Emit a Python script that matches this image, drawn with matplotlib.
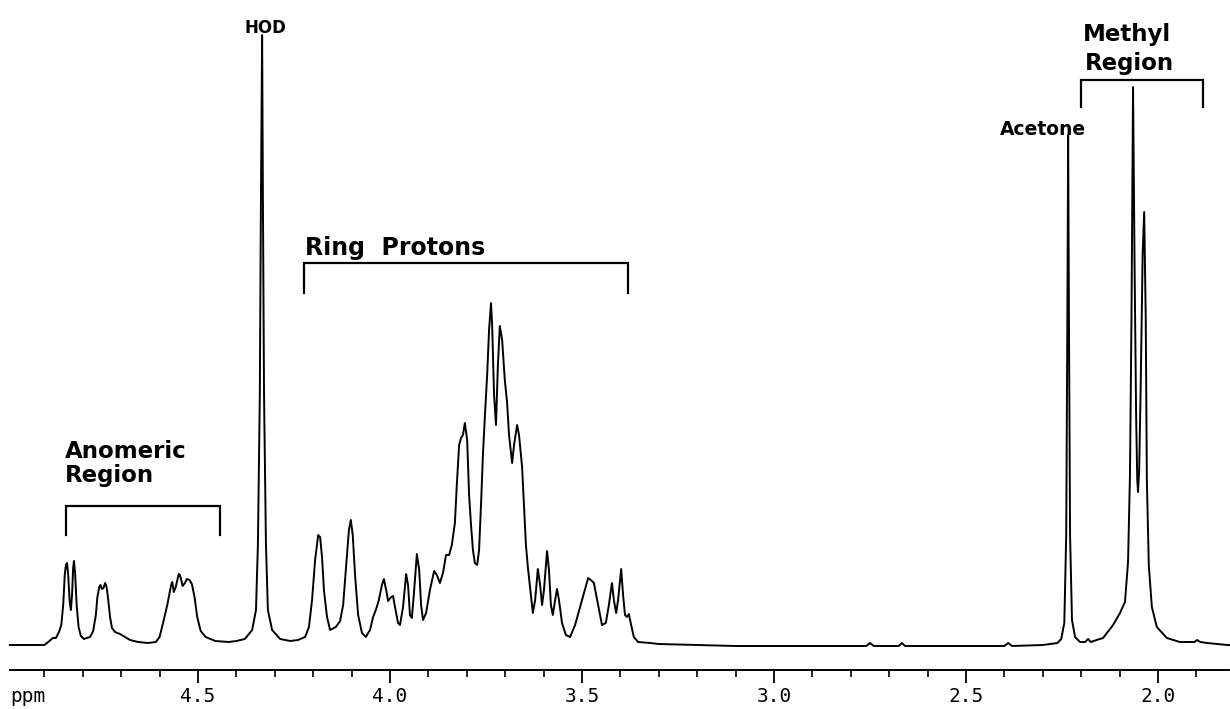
import numpy as np
import matplotlib.pyplot as plt
import matplotlib.ticker as mticker

# spectrum: chemical shift (ppm) and intensity (baseline = 0)
anomeric_ppm = [4.990, 4.900, 4.890, 4.878, 4.870, 4.862, 4.856, 4.851, 4.847, 4.844,
                4.841, 4.838, 4.834, 4.831, 4.828, 4.825, 4.823, 4.820, 4.816, 4.811,
                4.805, 4.797, 4.790, 4.781, 4.773, 4.766, 4.762, 4.757, 4.754, 4.750,
                4.746, 4.742, 4.738, 4.734, 4.729, 4.724, 4.716, 4.703, 4.690, 4.677,
                4.656, 4.630, 4.610, 4.600, 4.591, 4.580, 4.570, 4.567, 4.563, 4.558,
                4.550, 4.547, 4.540, 4.534, 4.529, 4.522, 4.516, 4.509, 4.502, 4.493,
                4.480, 4.455, 4.420, 4.400]
anomeric_int = [0, 0, 3, 7, 7, 13, 20, 40, 70, 80,
                82, 70, 42, 35, 50, 78, 84, 72, 40, 18,
                9, 6, 7, 8, 14, 30, 48, 58, 60, 56,
                57, 62, 58, 46, 28, 17, 13, 11, 8, 5,
                3, 2, 3, 8, 22, 40, 60, 63, 53, 58,
                71, 70, 59, 62, 66, 65, 61, 48, 28, 14,
                8, 4, 3, 4]

hod_ppm = [4.378, 4.359, 4.349, 4.344, 4.339, 4.336, 4.333, 4.331, 4.328, 4.323, 4.318, 4.307, 4.286]
hod_int = [6, 15, 35, 100, 250, 450, 610, 450, 250, 100, 35, 15, 6]

ring_ppm = [4.260, 4.240, 4.221, 4.211, 4.203, 4.195, 4.187, 4.182, 4.177, 4.172,
            4.164, 4.156, 4.141, 4.130, 4.122, 4.115, 4.107, 4.102, 4.097, 4.091,
            4.083, 4.073, 4.063, 4.052, 4.044, 4.036, 4.029, 4.021, 4.016, 4.010,
            4.005, 3.997, 3.992, 3.987, 3.979, 3.974, 3.966, 3.958, 3.953, 3.948,
            3.943, 3.938, 3.930, 3.924, 3.919, 3.914, 3.906, 3.896, 3.885, 3.878,
            3.870, 3.862, 3.854, 3.846, 3.839, 3.831, 3.826, 3.820, 3.815, 3.810,
            3.805, 3.799, 3.794, 3.789, 3.784, 3.779, 3.773, 3.768, 3.763, 3.758,
            3.753, 3.747, 3.742, 3.737, 3.734, 3.729, 3.724, 3.719, 3.714, 3.708,
            3.701, 3.695, 3.690, 3.682, 3.677, 3.669, 3.664, 3.656, 3.651, 3.646,
            3.641, 3.633, 3.628, 3.622, 3.615, 3.609, 3.604, 3.599, 3.591, 3.586,
            3.581, 3.576, 3.570, 3.565, 3.560, 3.552, 3.542, 3.531, 3.518, 3.505,
            3.495, 3.484, 3.477, 3.469, 3.458, 3.448, 3.438, 3.430, 3.422, 3.417,
            3.411, 3.406, 3.398, 3.393, 3.388, 3.383, 3.378, 3.372, 3.365, 3.354,
            3.323]
ring_int = [4, 5, 8, 18, 45, 85, 110, 108, 88, 55,
            28, 15, 18, 24, 40, 75, 115, 125, 110, 70,
            30, 12, 8, 15, 28, 36, 45, 60, 66, 55,
            44, 48, 49, 38, 22, 20, 38, 71, 60, 30,
            27, 50, 91, 75, 40, 25, 32, 55, 74, 70,
            62, 72, 90, 90, 100, 122, 160, 200, 207, 210,
            222, 205, 150, 120, 95, 82, 80, 95, 140, 190,
            228, 270, 315, 342, 320, 250, 220, 280, 319, 305,
            265, 242, 210, 182, 200, 220, 210, 178, 140, 100,
            78, 50, 32, 45, 76, 60, 40, 55, 94, 75,
            40, 30, 45, 56, 45, 22, 10, 8, 20, 38,
            52, 67, 65, 62, 40, 20, 22, 40, 62, 45,
            32, 45, 76, 50, 30, 28, 31, 20, 8, 3,
            2]

flat_ppm = [3.300, 3.100, 2.900, 2.760, 2.750, 2.740, 2.675, 2.667, 2.659, 2.500, 2.400, 2.390, 2.380, 2.300]
flat_int = [1, -1, -1, -1, 2, -1, -1, 2, -1, -1, -1, 2, -1, 0]

acetone_ppm = [2.262, 2.252, 2.244, 2.239, 2.236, 2.234, 2.232, 2.229, 2.224, 2.216,
               2.203, 2.190, 2.182, 2.175, 2.160]
acetone_int = [2, 6, 22, 110, 330, 510, 330, 110, 25, 8,
               3, 3, 6, 3, 5]

methyl_ppm = [2.143, 2.117, 2.099, 2.086, 2.078, 2.073, 2.069, 2.065, 2.061, 2.057,
              2.054, 2.052, 2.049, 2.045, 2.040, 2.036, 2.032, 2.029, 2.024, 2.016,
              2.003, 1.977, 1.943, 1.905, 1.898, 1.890, 1.872, 1.820, 1.815]
methyl_int = [7, 20, 32, 43, 83, 170, 330, 558, 380, 230,
              165, 153, 175, 260, 390, 433, 330, 165, 80, 38,
              18, 7, 3, 3, 5, 3, 2, 0, 0]

# axis
major_ticks = [4.5, 4.0, 3.5, 3.0, 2.5, 2.0]
major_labels = ["4.5", "4.0", "3.5", "3.0", "2.5", "2.0"]

# region brackets: left ppm, right ppm, bar height, leg end
bracket_left = [4.844, 4.224, 2.200]
bracket_right = [4.443, 3.380, 1.883]
bracket_top = [139, 382, 565]
bracket_leg = [110, 352, 538]

# annotations
label_text = ["HOD", "Acetone", "Methyl", "Region", "Ring  Protons", "Anomeric", "Region"]
label_ppm = [4.378, 2.411, 2.195, 2.190, 4.221, 4.846, 4.846]
label_int = [612, 510, 604, 575, 390, 187, 163]
label_size = [12, 13.5, 16.5, 16.5, 17, 16.5, 16.5]

ppm = np.concatenate([anomeric_ppm, hod_ppm, ring_ppm, flat_ppm, acetone_ppm, methyl_ppm])
inten = np.concatenate([anomeric_int, hod_int, ring_int, flat_int, acetone_int, methyl_int])

fig = plt.figure(figsize=(12.3, 7.09), dpi=100)
ax = fig.add_axes([0, 0, 1, 1])
ax.plot(ppm, inten, color="black", lw=1.4, solid_joinstyle="round")

ax.set_xlim(5.0156, 1.8125)
ax.set_ylim(-64, 645)

for side in ["left", "right", "top"]:
    ax.spines[side].set_visible(False)
ax.spines["bottom"].set_position(("data", -25))
ax.spines["bottom"].set_bounds(4.99, 1.815)
ax.spines["bottom"].set_linewidth(1.4)
ax.set_yticks([])

ax.set_xticks(major_ticks)
ax.set_xticklabels(major_labels)
ax.xaxis.set_minor_locator(mticker.FixedLocator(np.round(np.arange(4.9, 1.85, -0.1), 1)))
ax.tick_params(axis="x", which="major", direction="out", length=9.5, width=1.3, pad=3, labelsize=14)
ax.tick_params(axis="x", which="minor", direction="out", length=5, width=1.2)
for lab in ax.get_xticklabels():
    lab.set_family("DejaVu Sans Mono")
ax.text(4.99, -57, "ppm", fontsize=14, family="DejaVu Sans Mono", ha="left", va="baseline")

for l, r, t, b in zip(bracket_left, bracket_right, bracket_top, bracket_leg):
    ax.plot([l, l, r, r], [b, t, t, b], color="black", lw=1.6, solid_joinstyle="miter")

for txt, x, y, s in zip(label_text, label_ppm, label_int, label_size):
    ax.text(x, y, txt, fontsize=s, fontweight="bold", family="DejaVu Sans",
            ha="left", va="baseline")

fig.savefig("out.png", dpi=100)
